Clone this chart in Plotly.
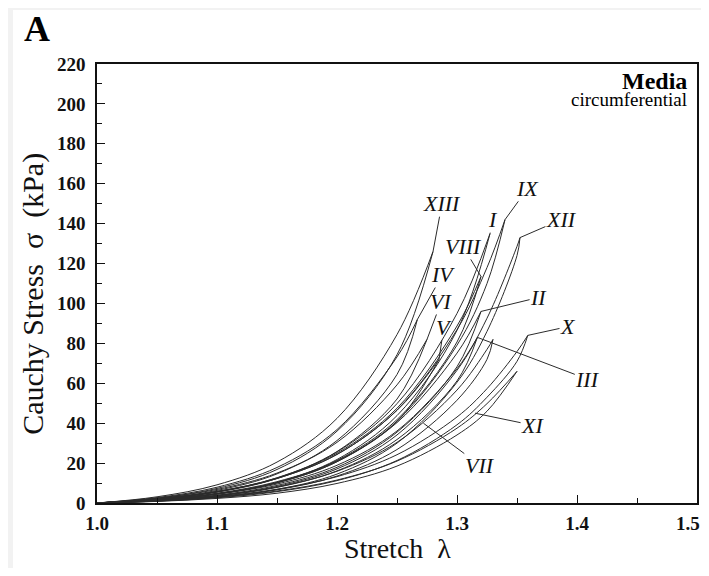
"""Media circumferential stress-stretch loops (panel A)."""

import plotly.graph_objects as go

SERIF = "Liberation Serif, Times New Roman, serif"
LINE_COLOR = "#2b2b2b"

# ---- data ------------------------------------------------------------------
curve_labels = ["I", "II", "III", "IV", "V", "VI", "VII",
                "VIII", "IX", "X", "XI", "XII", "XIII"]

stretch_grid = [1.0, 1.05, 1.10, 1.15, 1.20, 1.25, 1.30, 1.325, 1.35]

peak_stretch = [1.3275, 1.32, 1.317, 1.267, 1.285, 1.275, 1.33,
                1.32, 1.34, 1.359, 1.35, 1.3525, 1.28]
peak_stress = [135, 96, 83, 92, 72, 82, 82,
               113.5, 142, 84, 66, 133, 126]

N = None
loading_stress = [
    [0, 2.0, 5.7, 12.6, 25.6, 49.8, 95.0, N, N],       # I
    [0, 1.7, 4.9, 10.7, 21.1, 40.3, 75.1, N, N],       # II
    [0, 1.6, 4.4, 9.5, 18.9, 36.1, 67.3, N, N],        # III
    [0, 2.7, 7.9, 17.8, 36.8, 73.2, N, N, N],          # IV
    [0, 2.0, 5.6, 12.3, 24.3, 46.4, N, N, N],          # V
    [0, 2.4, 6.8, 15.0, 30.4, 59.2, N, N, N],          # VI
    [0, 1.3, 3.7, 8.0, 15.9, 30.4, 56.6, 77.0, N],     # VII
    [0, 2.1, 5.8, 12.6, 25.0, 47.5, 88.7, N, N],       # VIII
    [0, 2.0, 5.7, 12.3, 24.4, 46.6, 86.9, 118.0, N],   # IX
    [0, 1.2, 3.3, 6.9, 13.2, 24.2, 43.1, 57.3, 75.9],  # X
    [0, 1.1, 2.9, 6.0, 11.5, 21.0, 37.5, 49.8, N],     # XI
    [0, 1.3, 3.7, 8.3, 17.1, 34.1, 66.5, 92.6, 128.6],  # XII
    [0, 3.1, 9.1, 20.5, 42.4, 84.4, N, N, N],          # XIII
]
unloading_stress = [
    [0, 1.6, 4.6, 10.3, 21.8, 43.8, 86.5, N, N],
    [0, 1.3, 3.9, 8.8, 17.9, 35.5, 68.3, N, N],
    [0, 1.2, 3.5, 7.8, 16.1, 31.8, 61.2, N, N],
    [0, 2.1, 6.3, 14.6, 31.3, 64.4, N, N, N],
    [0, 1.6, 4.5, 10.1, 20.7, 40.8, N, N, N],
    [0, 1.9, 5.4, 12.3, 25.8, 52.1, N, N, N],
    [0, 1.0, 3.0, 6.6, 13.5, 26.8, 51.5, 72.0, N],
    [0, 1.6, 4.6, 10.3, 21.3, 41.8, 80.7, N, N],
    [0, 1.6, 4.6, 10.1, 20.7, 41.0, 79.1, 110.0, N],
    [0, 0.9, 2.6, 5.7, 11.2, 21.3, 39.2, 53.0, 71.0],
    [0, 0.8, 2.3, 4.9, 9.8, 18.5, 34.1, 46.0, N],
    [0, 1.0, 3.0, 6.8, 14.5, 30.0, 60.5, 86.0, 124.0],
    [0, 2.4, 7.3, 16.8, 36.0, 74.3, N, N, N],
]

# where each roman numeral sits, and the point its leader line touches
label_stretch = [1.330, 1.368, 1.409, 1.288, 1.289, 1.287, 1.319,
                 1.305, 1.359, 1.3925, 1.363, 1.387, 1.2875]
label_stress = [142, 103, 62, 114.5, 88, 101, 19,
                128.6, 157.7, 88.4, 39, 142, 150]
target_stretch = [1.3275, 1.32, 1.317, 1.267, 1.285, 1.275, 1.272,
                  1.32, 1.34, 1.359, 1.315, 1.3525, 1.28]
target_stress = [135, 96, 83, 92, 72, 82, 40,
                 113.5, 142, 84, 45, 133, 126]

x_ticks = [1.0, 1.1, 1.2, 1.3, 1.4]
x_last_tick = "1.5"


def _branch(stress, peak_x, peak_y):
    """Grid points that exist for a branch, closed at the peak."""
    xs = [x for x, y in zip(stretch_grid, stress) if y is not None]
    ys = [y for y in stress if y is not None]
    return xs + [peak_x], ys + [peak_y]


fig = go.Figure()

for i, name in enumerate(curve_labels):
    for stress in (loading_stress[i], unloading_stress[i]):
        xs, ys = _branch(stress, peak_stretch[i], peak_stress[i])
        fig.add_trace(
            go.Scatter(
                x=xs,
                y=ys,
                mode="lines",
                line={"color": LINE_COLOR, "width": 1, "shape": "spline",
                      "smoothing": 1.0},
                name=name,
                showlegend=False,
                hoverinfo="skip",
            )
        )

    fig.add_annotation(
        x=target_stretch[i],
        y=target_stress[i],
        ax=label_stretch[i],
        ay=label_stress[i],
        xref="x",
        yref="y",
        axref="x",
        ayref="y",
        text=f"<i>{name}</i>",
        showarrow=True,
        arrowhead=0,
        arrowwidth=1,
        arrowcolor=LINE_COLOR,
        standoff=0,
        borderpad=0,
        font={"family": SERIF, "size": 22, "color": "#111"},
    )

tick_font = {"family": SERIF, "size": 19, "color": "#111", "weight": "bold"}
axis_common = {
    "showline": True,
    "linecolor": "#111",
    "linewidth": 1.5,
    "mirror": True,
    "showgrid": False,
    "zeroline": False,
    "automargin": False,
    "ticks": "inside",
    "ticklen": 8,
    "tickwidth": 1.2,
    "tickcolor": "#111",
    "tickfont": tick_font,
}

fig.update_xaxes(
    range=[1.0, 1.5],
    tickvals=x_ticks,
    tickformat=".1f",
    ticklabelstandoff=2,
    minor={"dtick": 0.05, "ticks": "inside", "ticklen": 5, "tickcolor": "#111"},
    **axis_common,
)
fig.update_yaxes(
    range=[0, 220],
    dtick=20,
    ticklabelstandoff=6,
    minor={"dtick": 10, "ticks": "inside", "ticklen": 5, "tickcolor": "#111"},
    **axis_common,
)

# the last x label sits right on the page edge, so it is pinned to it
fig.add_annotation(
    text=x_last_tick, xref="paper", yref="paper", x=1.0067, y=-0.046,
    xanchor="right", yanchor="middle", showarrow=False, borderpad=0,
    font=tick_font,
)

# panel letter, legend box text and axis titles
fig.add_annotation(
    text="<b>A</b>", xref="paper", yref="paper", x=-0.123, y=1.08,
    xanchor="left", yanchor="middle", showarrow=False, borderpad=0,
    font={"family": SERIF, "size": 36, "color": "#000"},
)
fig.add_annotation(
    text="<b>Media</b>", xref="paper", yref="paper", x=0.985, y=0.962,
    xanchor="right", yanchor="middle", showarrow=False, borderpad=0,
    font={"family": SERIF, "size": 24, "color": "#000"},
)
fig.add_annotation(
    text="circumferential", xref="paper", yref="paper", x=0.985, y=0.918,
    xanchor="right", yanchor="middle", showarrow=False, borderpad=0,
    font={"family": SERIF, "size": 19, "color": "#000"},
)
fig.add_annotation(
    text="Cauchy Stress  σ  (kPa)", xref="paper", yref="paper",
    x=-0.107, y=0.476, xanchor="center", yanchor="middle", textangle=-90,
    showarrow=False, font={"family": SERIF, "size": 30, "color": "#111"},
)
fig.add_annotation(
    text="Stretch  λ", xref="paper", yref="paper", x=0.5, y=-0.104,
    xanchor="center", yanchor="middle", showarrow=False, borderpad=0,
    font={"family": SERIF, "size": 28, "color": "#111"},
)

# light grey strip along the top and left of the scanned panel
fig.add_shape(type="rect", xref="paper", yref="paper", x0=-0.2, x1=1.2,
              y0=1.123, y1=1.2, fillcolor="#f2f2f2", line_width=0,
              layer="below")
fig.add_shape(type="rect", xref="paper", yref="paper", x0=-0.2, x1=-0.14,
              y0=-0.2, y1=1.2, fillcolor="#f2f2f2", line_width=0,
              layer="below")

# the page body has an 8px margin on every side, so the figure is drawn
# 16px smaller than the window and shifted to land on the same pixels
fig.update_layout(
    width=693,
    height=560,
    margin={"l": 89, "r": 4, "t": 56, "b": 65},
    paper_bgcolor="white",
    plot_bgcolor="white",
    showlegend=False,
    font={"family": SERIF, "color": "#111"},
)

fig.write_html("out.html")
